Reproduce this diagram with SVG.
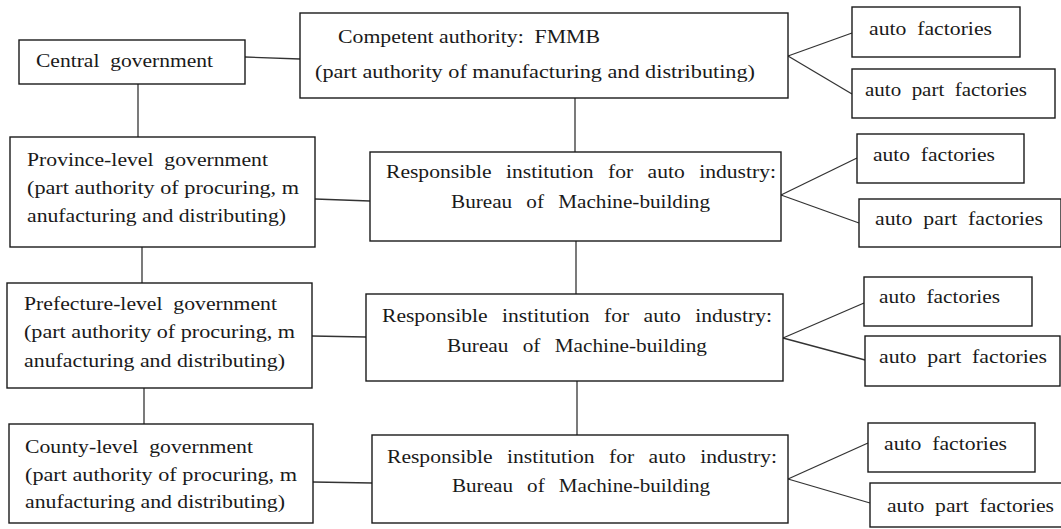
<svg xmlns="http://www.w3.org/2000/svg" width="1061" height="529" viewBox="0 0 1061 529" xml:space="preserve">
<style>
.box{fill:#fff;stroke:#1a1a1a;stroke-width:1.4}
.ln{stroke:#333;stroke-width:1.3;fill:none}
text{font-family:"Liberation Serif","Times New Roman",serif;font-size:19px;fill:#1a1a1a;white-space:pre}
.ws{word-spacing:8px}
</style>
<rect width="1061" height="529" fill="#fff"/>
<g id="connectors">
<line class="ln" x1="245" y1="57" x2="300" y2="59"/>
<line class="ln" x1="788" y1="56" x2="852" y2="33"/>
<line class="ln" x1="788" y1="56" x2="852" y2="94"/>
<line class="ln" x1="138" y1="84" x2="138" y2="137"/>
<line class="ln" x1="575" y1="98" x2="575" y2="152"/>
<line class="ln" x1="315" y1="199" x2="370" y2="201"/>
<line class="ln" x1="781" y1="195" x2="857" y2="158"/>
<line class="ln" x1="781" y1="195" x2="859" y2="223"/>
<line class="ln" x1="142" y1="247" x2="142" y2="283"/>
<line class="ln" x1="576" y1="241" x2="576" y2="294"/>
<line class="ln" x1="312" y1="336" x2="366" y2="337"/>
<line class="ln" x1="783" y1="338" x2="864" y2="303"/>
<line class="ln" x1="783" y1="338" x2="865" y2="360"/>
<line class="ln" x1="144" y1="388" x2="144" y2="424"/>
<line class="ln" x1="577" y1="381" x2="577" y2="435"/>
<line class="ln" x1="313" y1="482" x2="372" y2="483"/>
<line class="ln" x1="788" y1="479" x2="868" y2="443"/>
<line class="ln" x1="788" y1="479" x2="870" y2="503"/>
</g>
<g id="central">
<rect class="box" x="19" y="40" width="226" height="44"/>
<text x="36" y="67" textLength="177" lengthAdjust="spacingAndGlyphs">Central  government</text>
</g>
<g id="fmmb">
<rect class="box" x="300" y="13" width="488" height="85"/>
<text x="338" y="43" textLength="262" lengthAdjust="spacingAndGlyphs">Competent authority:  FMMB</text>
<text x="315" y="78" textLength="440" lengthAdjust="spacingAndGlyphs">(part authority of manufacturing and distributing)</text>
</g>
<g id="auto1">
<rect class="box" x="852" y="7" width="168" height="50"/>
<text x="869" y="35" textLength="123" lengthAdjust="spacingAndGlyphs">auto  factories</text>
</g>
<g id="part1">
<rect class="box" x="852" y="69" width="203" height="49"/>
<text x="865" y="96" textLength="162" lengthAdjust="spacingAndGlyphs">auto  part  factories</text>
</g>
<g id="province">
<rect class="box" x="10" y="137" width="305" height="110"/>
<text x="27" y="166" textLength="241" lengthAdjust="spacingAndGlyphs">Province-level  government</text>
<text x="27" y="194" textLength="272" lengthAdjust="spacingAndGlyphs">(part authority of procuring, m</text>
<text x="27" y="222" textLength="259" lengthAdjust="spacingAndGlyphs">anufacturing and distributing)</text>
</g>
<g id="bureau1">
<rect class="box" x="370" y="152" width="411" height="89"/>
<text class="ws" x="386" y="178" textLength="390" lengthAdjust="spacingAndGlyphs">Responsible institution for auto industry:</text>
<text class="ws" x="451" y="208" textLength="259" lengthAdjust="spacingAndGlyphs">Bureau of Machine-building</text>
</g>
<g id="auto2">
<rect class="box" x="857" y="134" width="167" height="49"/>
<text x="873" y="161" textLength="122" lengthAdjust="spacingAndGlyphs">auto  factories</text>
</g>
<g id="part2">
<rect class="box" x="859" y="199" width="202" height="48"/>
<text x="875" y="225" textLength="168" lengthAdjust="spacingAndGlyphs">auto  part  factories</text>
</g>
<g id="prefecture">
<rect class="box" x="7" y="283" width="305" height="105"/>
<text x="24" y="310" textLength="253" lengthAdjust="spacingAndGlyphs">Prefecture-level  government</text>
<text x="24" y="338" textLength="271" lengthAdjust="spacingAndGlyphs">(part authority of procuring, m</text>
<text x="24" y="367" textLength="261" lengthAdjust="spacingAndGlyphs">anufacturing and distributing)</text>
</g>
<g id="bureau2">
<rect class="box" x="366" y="294" width="417" height="87"/>
<text class="ws" x="382" y="322" textLength="390" lengthAdjust="spacingAndGlyphs">Responsible institution for auto industry:</text>
<text class="ws" x="447" y="352" textLength="260" lengthAdjust="spacingAndGlyphs">Bureau of Machine-building</text>
</g>
<g id="auto3">
<rect class="box" x="864" y="277" width="168" height="49"/>
<text x="879" y="303" textLength="121" lengthAdjust="spacingAndGlyphs">auto  factories</text>
</g>
<g id="part3">
<rect class="box" x="865" y="336" width="195" height="50"/>
<text x="879" y="363" textLength="168" lengthAdjust="spacingAndGlyphs">auto  part  factories</text>
</g>
<g id="county">
<rect class="box" x="9" y="424" width="304" height="99"/>
<text x="25" y="453" textLength="228" lengthAdjust="spacingAndGlyphs">County-level  government</text>
<text x="25" y="481" textLength="272" lengthAdjust="spacingAndGlyphs">(part authority of procuring, m</text>
<text x="25" y="508" textLength="260" lengthAdjust="spacingAndGlyphs">anufacturing and distributing)</text>
</g>
<g id="bureau3">
<rect class="box" x="372" y="435" width="416" height="88"/>
<text class="ws" x="387" y="463" textLength="390" lengthAdjust="spacingAndGlyphs">Responsible institution for auto industry:</text>
<text class="ws" x="452" y="492" textLength="258" lengthAdjust="spacingAndGlyphs">Bureau of Machine-building</text>
</g>
<g id="auto4">
<rect class="box" x="868" y="423" width="167" height="49"/>
<text x="884" y="450" textLength="123" lengthAdjust="spacingAndGlyphs">auto  factories</text>
</g>
<g id="part4">
<rect class="box" x="870" y="483" width="200" height="44"/>
<text x="887" y="512" textLength="167" lengthAdjust="spacingAndGlyphs">auto  part  factories</text>
</g>
</svg>
